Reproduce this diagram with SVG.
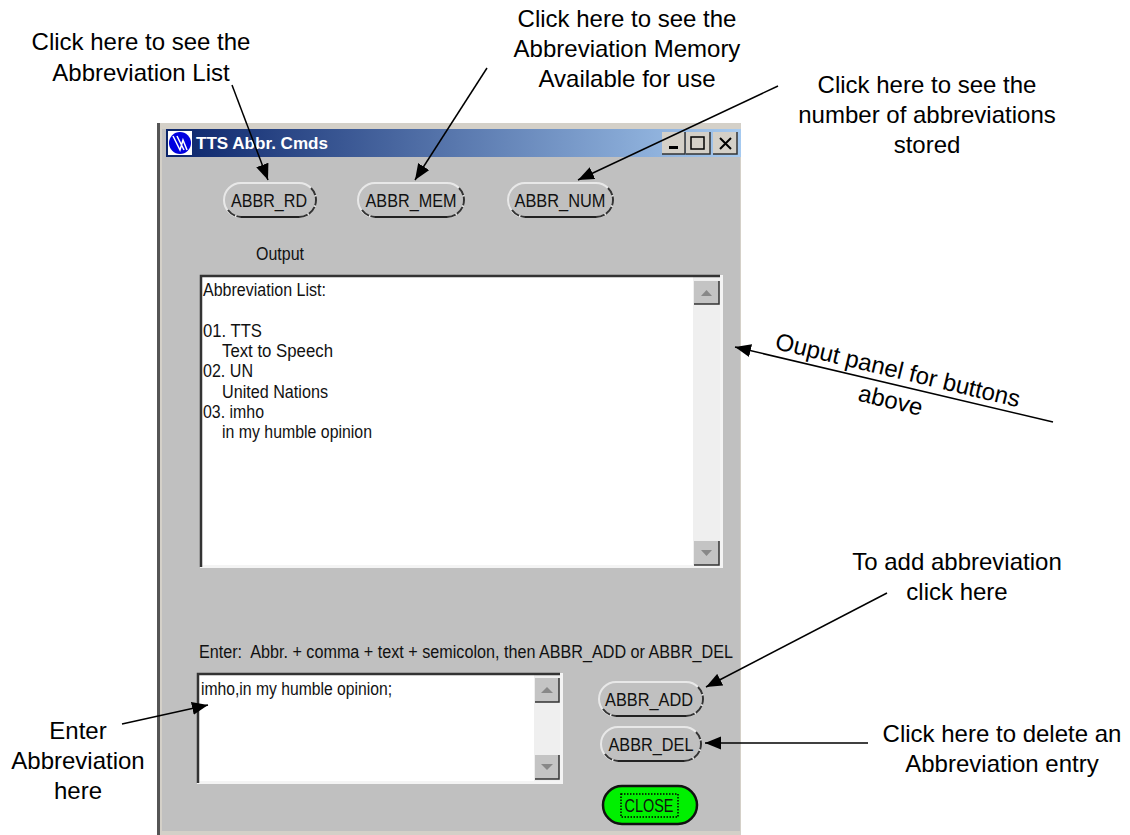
<svg xmlns="http://www.w3.org/2000/svg" width="1130" height="835" viewBox="0 0 1130 835">
<style>
.a{font-family:"Liberation Sans",Arial,sans-serif;font-size:24px;fill:#000;text-anchor:middle}
.u{font-family:"Liberation Sans",Arial,sans-serif;font-size:17.500px;fill:#111}
.b{font-family:"Liberation Sans",Arial,sans-serif;font-size:19px;fill:#111;text-anchor:middle}
.hi{fill:none;stroke:#e8e8e8;stroke-width:2}
.lo{fill:none;stroke:#222;stroke-width:2}
.ld{fill:none;stroke:#333;stroke-width:2;stroke-dasharray:9 1.500}
.sb{fill:#efefef}
.sbtn{fill:#c4c4c4}
.sbe{fill:none;stroke:#333;stroke-width:1.500}
.conn{fill:none;stroke:#000;stroke-width:1.500;marker-end:url(#arr)}
</style>
<defs>
<linearGradient id="tb"><stop offset="0" stop-color="#0a246a"/><stop offset="1" stop-color="#a6caf0"/></linearGradient>
<marker id="arr" markerUnits="userSpaceOnUse" markerWidth="18" markerHeight="14" refX="16" refY="7" orient="auto"><path d="M0 0.500L16 7L0 13.500z" fill="#000"/></marker>
</defs>
<rect width="1130" height="835" fill="#fff"/>
<g id="window">
<rect x="157" y="123" width="584" height="712" fill="#d4d0c8"/>
<rect x="157" y="123" width="3" height="712" fill="#555"/>
<rect x="162" y="129" width="578" height="702" fill="#c0c0c0"/>
<rect x="166" y="129" width="575" height="28" fill="url(#tb)"/>
<rect x="168" y="131" width="24" height="24" fill="#fff"/>
<circle cx="180" cy="143" r="11" fill="#0000e0"/>
<path d="M173 136L180 150L183 140L187 150M177 136L184 150" fill="none" stroke="#fff" stroke-width="1.500"/>
<text x="196" y="149" font-family="'Liberation Sans',Arial,sans-serif" font-size="16.500" font-weight="bold" fill="#fff" textLength="132" lengthAdjust="spacingAndGlyphs">TTS Abbr. Cmds</text>
<g id="winbtns">
<rect x="662" y="132" width="23" height="22" fill="#d4d0c8"/><path d="M662 154H685V132" class="sbe"/>
<rect x="669" y="146" width="9" height="3" fill="#000"/>
<rect x="686" y="132" width="24" height="22" fill="#d4d0c8"/><path d="M686 154H710V132" class="sbe"/>
<rect x="691" y="137" width="13" height="12" fill="none" stroke="#000" stroke-width="1.500"/>
<rect x="713" y="132" width="24" height="22" fill="#d4d0c8"/><path d="M713 154H737V132" class="sbe"/>
<path d="M720 138L731 149M731 138L720 149" stroke="#000" stroke-width="2"/>
</g>
</g>
<g id="btn-rd"><rect x="224" y="183" width="92" height="34" rx="17" class="hi"/><path d="M241 217H299" class="lo"/><path d="M228 210A17 17 0 0 0 241 217M299 217A17 17 0 0 0 316 200A17 17 0 0 0 311 188" class="ld"/><text x="269" y="207" class="b" textLength="76" lengthAdjust="spacingAndGlyphs">ABBR_RD</text></g>
<g id="btn-mem"><rect x="358" y="183" width="106" height="34" rx="17" class="hi"/><path d="M375 217H447" class="lo"/><path d="M362 210A17 17 0 0 0 375 217M447 217A17 17 0 0 0 464 200A17 17 0 0 0 459 188" class="ld"/><text x="411" y="207" class="b" textLength="91" lengthAdjust="spacingAndGlyphs">ABBR_MEM</text></g>
<g id="btn-num"><rect x="508" y="183" width="105" height="34" rx="17" class="hi"/><path d="M525 217H596" class="lo"/><path d="M512 210A17 17 0 0 0 525 217M596 217A17 17 0 0 0 613 200A17 17 0 0 0 608 188" class="ld"/><text x="560" y="207" class="b" textLength="91" lengthAdjust="spacingAndGlyphs">ABBR_NUM</text></g>
<g id="output-label"><text x="256" y="260" class="u" textLength="48" lengthAdjust="spacingAndGlyphs">Output</text></g>
<g id="output-panel">
<rect x="200" y="275" width="523" height="293" fill="#f4f4f4"/>
<rect x="202" y="277" width="492" height="288" fill="#fff"/>
<rect x="693" y="277" width="27" height="288" class="sb"/>
<path d="M201 567V276H720" fill="none" stroke="#333" stroke-width="2.500"/>
<rect x="694" y="281" width="25" height="23" class="sbtn"/><path d="M694 304H719V281" class="sbe"/><path d="M701 296L706.500 290L712 296z" fill="#888"/>
<rect x="694" y="541" width="25" height="24" class="sbtn"/><path d="M694 565H719V541" class="sbe"/><path d="M701 550L706.500 556L712 550z" fill="#888"/>
<text x="203" y="296" class="u" textLength="123" lengthAdjust="spacingAndGlyphs">Abbreviation List:</text>
<text x="203" y="337" class="u" textLength="59" lengthAdjust="spacingAndGlyphs">01. TTS</text>
<text x="222" y="357" class="u" textLength="111" lengthAdjust="spacingAndGlyphs">Text to Speech</text>
<text x="203" y="377" class="u" textLength="50" lengthAdjust="spacingAndGlyphs">02. UN</text>
<text x="222" y="398" class="u" textLength="106" lengthAdjust="spacingAndGlyphs">United Nations</text>
<text x="203" y="418" class="u" textLength="61" lengthAdjust="spacingAndGlyphs">03. imho</text>
<text x="222" y="438" class="u" textLength="150" lengthAdjust="spacingAndGlyphs">in my humble opinion</text>
</g>
<g id="enter-label"><text x="199" y="658" class="u" textLength="534" lengthAdjust="spacingAndGlyphs" xml:space="preserve">Enter:  Abbr. + comma + text + semicolon, then ABBR_ADD or ABBR_DEL</text></g>
<g id="enter-box">
<rect x="197" y="673" width="366" height="111" fill="#f4f4f4"/>
<rect x="199" y="675" width="335" height="106" fill="#fff"/>
<rect x="534" y="675" width="26" height="106" class="sb"/>
<path d="M198 783V674H560" fill="none" stroke="#333" stroke-width="2.500"/>
<rect x="535" y="678" width="24" height="24" class="sbtn"/><path d="M535 702H559V678" class="sbe"/><path d="M541 693L547 687L553 693z" fill="#888"/>
<rect x="535" y="755" width="24" height="24" class="sbtn"/><path d="M535 779H559V755" class="sbe"/><path d="M541 764L547 770L553 764z" fill="#888"/>
<text x="201" y="695" class="u" textLength="191" lengthAdjust="spacingAndGlyphs">imho,in my humble opinion;</text>
</g>
<g id="btn-add"><rect x="599" y="682" width="104" height="34" rx="17" class="hi"/><path d="M616 716H686" class="lo"/><path d="M603 709A17 17 0 0 0 616 716M686 716A17 17 0 0 0 703 699A17 17 0 0 0 698 687" class="ld"/><text x="649" y="706" class="b" textLength="88" lengthAdjust="spacingAndGlyphs">ABBR_ADD</text></g>
<g id="btn-del"><rect x="601" y="727" width="100" height="34" rx="17" class="hi"/><path d="M618 761H684" class="lo"/><path d="M605 754A17 17 0 0 0 618 761M684 761A17 17 0 0 0 701 744A17 17 0 0 0 696 732" class="ld"/><text x="651" y="751" class="b" textLength="85" lengthAdjust="spacingAndGlyphs">ABBR_DEL</text></g>
<g id="btn-close"><rect x="603" y="786" width="94" height="38" rx="19" fill="#00f000" stroke="#111" stroke-width="2.500"/><rect x="621" y="794" width="57" height="23" fill="none" stroke="#000" stroke-width="1.500" stroke-dasharray="1.500 1.500"/><text x="649" y="812" class="b" textLength="49" lengthAdjust="spacingAndGlyphs">CLOSE</text></g>
<g id="connectors">
<path class="conn" d="M232 85L268 180"/>
<path class="conn" d="M487 68L415 180"/>
<path class="conn" d="M778 86L578 180"/>
<path class="conn" d="M1053 422L735 347"/>
<path class="conn" d="M887 593L706 687"/>
<path class="conn" d="M868 743L705 743"/>
<path class="conn" d="M122 724L208 705"/>
</g>
<g id="labels">
<text class="a"><tspan x="141" y="50">Click here to see the</tspan><tspan x="141" y="81">Abbreviation List</tspan></text>
<text class="a"><tspan x="627" y="27">Click here to see the</tspan><tspan x="627" y="57">Abbreviation Memory</tspan><tspan x="627" y="87">Available for use</tspan></text>
<text class="a"><tspan x="927" y="93">Click here to see the</tspan><tspan x="927" y="123">number of abbreviations</tspan><tspan x="927" y="153">stored</tspan></text>
<text class="a" transform="rotate(13.500 896 378)"><tspan x="896" y="378">Ouput panel for buttons</tspan><tspan x="896" y="409">above</tspan></text>
<text class="a"><tspan x="957" y="570">To add abbreviation</tspan><tspan x="957" y="600">click here</tspan></text>
<text class="a"><tspan x="1002" y="742">Click here to delete an</tspan><tspan x="1002" y="772">Abbreviation entry</tspan></text>
<text class="a"><tspan x="78" y="739">Enter</tspan><tspan x="78" y="769">Abbreviation</tspan><tspan x="78" y="799">here</tspan></text>
</g>
</svg>
